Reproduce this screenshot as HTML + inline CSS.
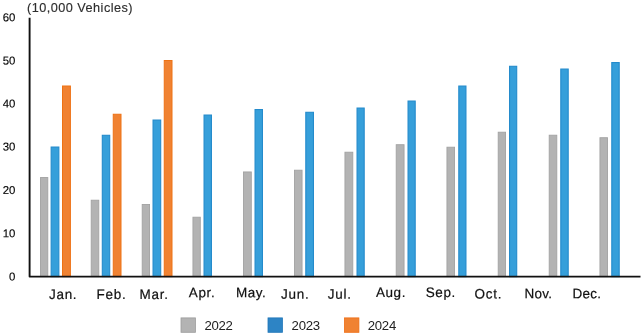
<!DOCTYPE html>
<html><head><meta charset="utf-8"><title>Chart</title>
<style>
html,body{margin:0;padding:0;background:#fff;}
body{width:644px;height:336px;overflow:hidden;}
svg{display:block;}
text{font-family:"Liberation Sans",Arial,sans-serif;}
.xl{font-size:13.5px;letter-spacing:0.7px;fill:#111;stroke:#111;stroke-width:0.2px;}
.yl{font-size:11.4px;text-anchor:end;fill:#000;stroke:#000;stroke-width:0.12px;}
.tt{font-size:12.7px;letter-spacing:0.47px;fill:#2e2e2e;stroke:#2e2e2e;stroke-width:0.15px;}
.lg{font-size:13.2px;letter-spacing:-0.3px;fill:#222;}
</style></head><body>
<svg width="644" height="336" viewBox="0 0 644 336">
<rect width="644" height="336" fill="#fff"/>
<text class="tt" x="27" y="11.9">(10,000 Vehicles)</text>
<text class="yl" transform="translate(15.4 21.3) rotate(0.03)">60</text>
<text class="yl" transform="translate(15.4 64.4) rotate(0.03)">50</text>
<text class="yl" transform="translate(15.4 107.4) rotate(0.03)">40</text>
<text class="yl" transform="translate(15.4 150.4) rotate(0.03)">30</text>
<text class="yl" transform="translate(15.4 194.0) rotate(0.03)">20</text>
<text class="yl" transform="translate(15.4 237.2) rotate(0.03)">10</text>
<text class="yl" transform="translate(15.4 280.5) rotate(0.03)">0</text>
<rect x="40.45" y="177.55" width="7.35" height="99.05" fill="#b3b3b3" stroke="#a2a2a2" stroke-width="0.9"/>
<rect x="91.20" y="200.20" width="7.60" height="76.40" fill="#b3b3b3" stroke="#a2a2a2" stroke-width="0.9"/>
<rect x="142.20" y="204.45" width="7.35" height="72.15" fill="#b3b3b3" stroke="#a2a2a2" stroke-width="0.9"/>
<rect x="192.95" y="217.20" width="7.35" height="59.40" fill="#b3b3b3" stroke="#a2a2a2" stroke-width="0.9"/>
<rect x="243.45" y="171.95" width="7.85" height="104.65" fill="#b3b3b3" stroke="#a2a2a2" stroke-width="0.9"/>
<rect x="294.45" y="170.20" width="7.60" height="106.40" fill="#b3b3b3" stroke="#a2a2a2" stroke-width="0.9"/>
<rect x="344.95" y="152.20" width="7.85" height="124.40" fill="#b3b3b3" stroke="#a2a2a2" stroke-width="0.9"/>
<rect x="396.20" y="144.70" width="7.85" height="131.90" fill="#b3b3b3" stroke="#a2a2a2" stroke-width="0.9"/>
<rect x="446.95" y="147.20" width="7.60" height="129.40" fill="#b3b3b3" stroke="#a2a2a2" stroke-width="0.9"/>
<rect x="498.20" y="132.20" width="7.35" height="144.40" fill="#b3b3b3" stroke="#a2a2a2" stroke-width="0.9"/>
<rect x="549.20" y="135.20" width="7.60" height="141.40" fill="#b3b3b3" stroke="#a2a2a2" stroke-width="0.9"/>
<rect x="599.95" y="137.70" width="7.60" height="138.90" fill="#b3b3b3" stroke="#a2a2a2" stroke-width="0.9"/>
<rect x="51.15" y="147.05" width="7.70" height="129.55" fill="#369fda" stroke="#248bcc" stroke-width="1.1"/>
<rect x="102.30" y="135.30" width="7.40" height="141.30" fill="#369fda" stroke="#248bcc" stroke-width="1.1"/>
<rect x="153.05" y="120.05" width="7.65" height="156.55" fill="#369fda" stroke="#248bcc" stroke-width="1.1"/>
<rect x="204.05" y="115.05" width="7.40" height="161.55" fill="#369fda" stroke="#248bcc" stroke-width="1.1"/>
<rect x="255.05" y="109.55" width="7.40" height="167.05" fill="#369fda" stroke="#248bcc" stroke-width="1.1"/>
<rect x="305.80" y="112.30" width="7.65" height="164.30" fill="#369fda" stroke="#248bcc" stroke-width="1.1"/>
<rect x="357.05" y="108.05" width="7.15" height="168.55" fill="#369fda" stroke="#248bcc" stroke-width="1.1"/>
<rect x="408.05" y="101.05" width="7.15" height="175.55" fill="#369fda" stroke="#248bcc" stroke-width="1.1"/>
<rect x="458.80" y="86.05" width="7.15" height="190.55" fill="#369fda" stroke="#248bcc" stroke-width="1.1"/>
<rect x="509.55" y="66.30" width="7.15" height="210.30" fill="#369fda" stroke="#248bcc" stroke-width="1.1"/>
<rect x="560.80" y="69.05" width="7.40" height="207.55" fill="#369fda" stroke="#248bcc" stroke-width="1.1"/>
<rect x="611.80" y="62.55" width="7.40" height="214.05" fill="#369fda" stroke="#248bcc" stroke-width="1.1"/>
<rect x="62.50" y="86.00" width="7.90" height="190.60" fill="#f08232" stroke="#ee7214" stroke-width="1.0"/>
<rect x="113.25" y="114.25" width="7.75" height="162.35" fill="#f08232" stroke="#ee7214" stroke-width="1.0"/>
<rect x="164.25" y="60.50" width="7.75" height="216.10" fill="#f08232" stroke="#ee7214" stroke-width="1.0"/>
<path d="M29.6 17.7 V276.6 H640.5" fill="none" stroke="#111" stroke-width="1.9" stroke-linejoin="round"/>
<text class="xl" style="letter-spacing:0.7px" transform="translate(49.0 298.9) scale(1 1.02) rotate(0.03)">Jan.</text>
<text class="xl" style="letter-spacing:0.7px" transform="translate(96.6 298.9) scale(1 1.02) rotate(0.03)">Feb.</text>
<text class="xl" style="letter-spacing:0.7px" transform="translate(139.6 298.9) scale(1 1.02) rotate(0.03)">Mar.</text>
<text class="xl" style="letter-spacing:0.7px" transform="translate(188.7 297.3) scale(1 1.02) rotate(0.03)">Apr.</text>
<text class="xl" style="letter-spacing:0.5px" transform="translate(236.1 297.3) scale(1 1.02) rotate(0.03)">May.</text>
<text class="xl" style="letter-spacing:0.7px" transform="translate(281.1 298.8) scale(1 1.02) rotate(0.03)">Jun.</text>
<text class="xl" style="letter-spacing:0.7px" transform="translate(327.8 298.7) scale(1 1.02) rotate(0.03)">Jul.</text>
<text class="xl" style="letter-spacing:0.55px" transform="translate(376.0 297.1) scale(1 1.02) rotate(0.03)">Aug.</text>
<text class="xl" style="letter-spacing:0.6px" transform="translate(425.7 297.1) scale(1 1.02) rotate(0.03)">Sep.</text>
<text class="xl" style="letter-spacing:0.7px" transform="translate(474.6 298.4) scale(1 1.02) rotate(0.03)">Oct.</text>
<text class="xl" style="letter-spacing:0.25px" transform="translate(524.6 298.3) scale(1 1.02) rotate(0.03)">Nov.</text>
<text class="xl" style="letter-spacing:0.2px" transform="translate(572.6 298.3) scale(1 1.02) rotate(0.03)">Dec.</text>
<rect x="181.0" y="317.9" width="14.4" height="14.4" fill="#b3b3b3" stroke="#9c9c9c" stroke-width="0.8"/>
<text class="lg" x="204.4" y="329.6">2022</text>
<rect x="268.0" y="317.9" width="14.4" height="14.4" fill="#2d84c5" stroke="#1f76b8" stroke-width="0.8"/>
<text class="lg" x="291.6" y="329.6">2023</text>
<rect x="344.5" y="317.9" width="14.4" height="14.4" fill="#f08232" stroke="#ee6c12" stroke-width="0.8"/>
<text class="lg" x="367.8" y="329.6">2024</text>
</svg>
</body></html>
